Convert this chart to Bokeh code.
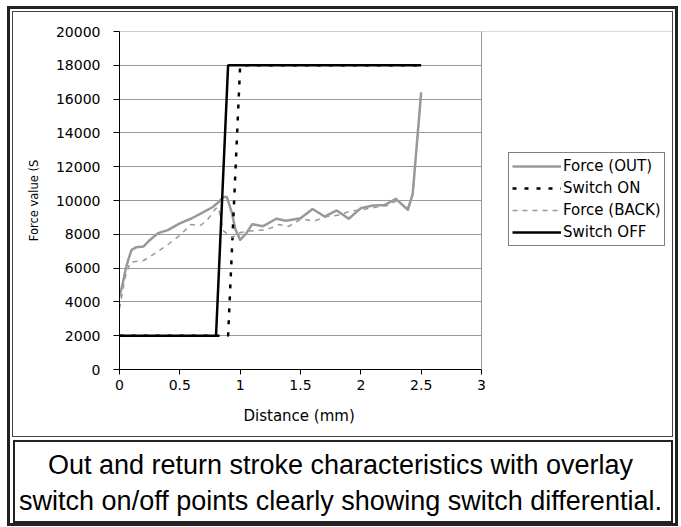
from bokeh.plotting import figure
from bokeh.models import (Legend, LegendItem, Range1d, FixedTicker, Label,
                          NumeralTickFormatter, BoxAnnotation, Span, Title)
from bokeh.layouts import column
from bokeh.embed import file_html
from bokeh.resources import INLINE

# ---- data ----
force_out_x = [0, 0.03, 0.05, 0.075, 0.1, 0.14, 0.2, 0.25, 0.32, 0.4, 0.5, 0.6,
               0.68, 0.77, 0.82, 0.86, 0.89, 0.93, 0.96, 1.0, 1.05, 1.1, 1.19,
               1.3, 1.38, 1.5, 1.6, 1.7, 1.8, 1.9, 2.0, 2.1, 2.2, 2.29, 2.39,
               2.43, 2.5]
force_out_y = [4300, 5200, 5900, 6550, 7080, 7240, 7280, 7650, 8070, 8250, 8650,
               8950, 9250, 9600, 9900, 10200, 10200, 9300, 8300, 7670, 8050,
               8600, 8480, 8920, 8800, 8950, 9500, 9050, 9410, 8920, 9550, 9700,
               9740, 10100, 9450, 10400, 16400]

switch_on_x = [0, 0.9, 1.0, 2.5]
switch_on_y = [2000, 2000, 18000, 18000]

force_back_x = [0, 0.02, 0.047, 0.09, 0.2, 0.31, 0.41, 0.5, 0.59, 0.67, 0.725,
                0.795, 0.82, 0.86, 0.93, 1.0, 1.08, 1.13, 1.22, 1.32, 1.4, 1.51,
                1.61, 1.72, 1.83, 1.91, 2.01, 2.12, 2.22, 2.3, 2.385, 2.43, 2.5]
force_back_y = [3600, 4380, 5460, 6350, 6450, 6940, 7440, 7930, 8580, 8520, 8820,
                9510, 9600, 8220, 7800, 8100, 8200, 8220, 8270, 8580, 8460, 8920,
                8780, 9050, 9150, 9370, 9450, 9600, 9700, 10000, 9510, 10300, 16300]

switch_off_x = [0, 0.8, 0.9, 2.5]
switch_off_y = [2000, 2000, 18000, 18000]

x_min, x_max = 0, 3
y_min, y_max = 0, 20000
x_ticks = [0, 0.5, 1, 1.5, 2, 2.5, 3]
y_ticks = [0, 2000, 4000, 6000, 8000, 10000, 12000, 14000, 16000, 18000, 20000]

series_names = ["Force (OUT)", "Switch ON", "Force (BACK)", "Switch OFF"]
x_title = "Distance (mm)"
y_title = "Force value (S"
caption_lines = ["Out and return stroke characteristics with overlay",
                 "switch on/off points clearly showing switch differential."]

AX_FONT = "DejaVu Sans"

# ---- chart ----
CW, CH = 659, 424
LEFT = 106
PLOT_W = 362            # pixel width of the 0..3 plot area
FRAME_W = CW - LEFT     # frame also hosts the legend on its right
p = figure(width=CW, height=CH,
           x_range=Range1d(x_min, x_max * FRAME_W / PLOT_W),
           y_range=Range1d(y_min, y_max),
           output_backend="svg", toolbar_location=None,
           min_border_left=LEFT, min_border_right=0,
           min_border_top=19, min_border_bottom=67)
p.frame_align = False
p.margin = (3, 3, 3, 3)
p.styles = {"box-shadow": "0 0 0 1px #444"}
p.background_fill_color = "white"
p.border_fill_color = "white"
p.outline_line_color = None

p.xgrid.visible = False
p.ygrid.grid_line_color = "#999999"
p.ygrid.grid_line_width = 1
p.ygrid.ticker = FixedTicker(ticks=y_ticks)

p.xaxis.ticker = FixedTicker(ticks=x_ticks)
p.yaxis.ticker = FixedTicker(ticks=y_ticks)
p.xaxis.bounds = (x_min, x_max)
p.xaxis.formatter = NumeralTickFormatter(format="0.[0]")
p.yaxis.formatter = NumeralTickFormatter(format="0")
for ax in (p.xaxis[0], p.yaxis[0]):
    ax.axis_line_color = "black"
    ax.axis_line_width = 1
    ax.major_tick_line_color = "black"
    ax.major_tick_in = 0
    ax.minor_tick_line_color = None
    ax.major_label_text_font = AX_FONT
    ax.major_label_text_font_size = "14px"
    ax.major_label_text_color = "black"
    ax.axis_label_text_font = AX_FONT
    ax.axis_label_text_font_style = "normal"
    ax.axis_label_text_color = "black"
p.xaxis.major_tick_out = 5
p.xaxis.major_label_standoff = 5
p.yaxis.major_tick_out = 6
p.yaxis.major_label_standoff = 13
p.yaxis.axis_label = y_title
p.yaxis.axis_label_text_font_size = "11.5px"
p.yaxis.axis_label_standoff = 12

# x-axis title centred under the 0..3 plot area (not under the legend)
p.add_layout(Title(text=x_title, align="left", offset=124, standoff=24,
                   text_font=AX_FONT, text_font_size="15px",
                   text_font_style="normal", text_color="black"), "below")

# plot-area border (top edge) and mask of the area right of the plot
p.add_layout(Span(location=y_max, dimension="width", line_color="#999999",
                  line_width=1, level="underlay"))
p.add_layout(BoxAnnotation(left=x_max, fill_color="white", fill_alpha=1,
                           line_color=None, level="underlay"))
p.add_layout(Span(location=x_max, dimension="height", line_color="#999999",
                  line_width=1))

r_out = p.line(force_out_x, force_out_y, line_color="#999999", line_width=2.5,
               line_join="round")
r_on = p.line(switch_on_x, switch_on_y, line_color="black", line_width=2.5,
              line_dash="4 8")
r_back = p.line(force_back_x, force_back_y, line_color="#999999", line_width=1.5,
                line_dash="5 5")
r_off = p.line(switch_off_x, switch_off_y, line_color="black", line_width=2.5)

legend = Legend(items=[LegendItem(label=n, renderers=[r]) for n, r in
                       zip(series_names, [r_out, r_on, r_back, r_off])],
                location=(389, 123))
legend.border_line_color = "black"
legend.border_line_width = 1
legend.background_fill_color = "white"
legend.background_fill_alpha = 1
legend.label_text_font = AX_FONT
legend.label_text_font_size = "15px"
legend.label_text_color = "black"
legend.glyph_width = 49
legend.glyph_height = 20
legend.label_height = 20
legend.label_standoff = 2
legend.padding = 3
legend.spacing = 2
legend.margin = 0
p.add_layout(legend)

# ---- caption ----
KW, KH = 656, 79
c = figure(width=KW, height=KH, x_range=Range1d(0, KW), y_range=Range1d(0, KH),
           output_backend="svg", toolbar_location=None,
           min_border=0, min_border_left=0, min_border_right=0,
           min_border_top=0, min_border_bottom=0)
c.frame_align = False
c.axis.visible = False
c.grid.visible = False
c.outline_line_color = None
c.background_fill_color = "white"
c.border_fill_color = "white"
c.margin = (3, 4, 2, 5)
c.styles = {"box-shadow": "0 0 0 2px #222"}
for i, t in enumerate(caption_lines):
    c.add_layout(Label(x=325, y=KH - 22 - 36 * i, text=t,
                       text_align="center", text_baseline="middle",
                       text_font="Liberation Sans",
                       text_font_size="27px", text_color="black"))

layout = column(p, c, spacing=0)
layout.margin = (6, 0, 0, 7)
layout.styles = {"border": "3px solid #222", "background-color": "white"}

open("out.html", "w").write(file_html(layout, INLINE))
